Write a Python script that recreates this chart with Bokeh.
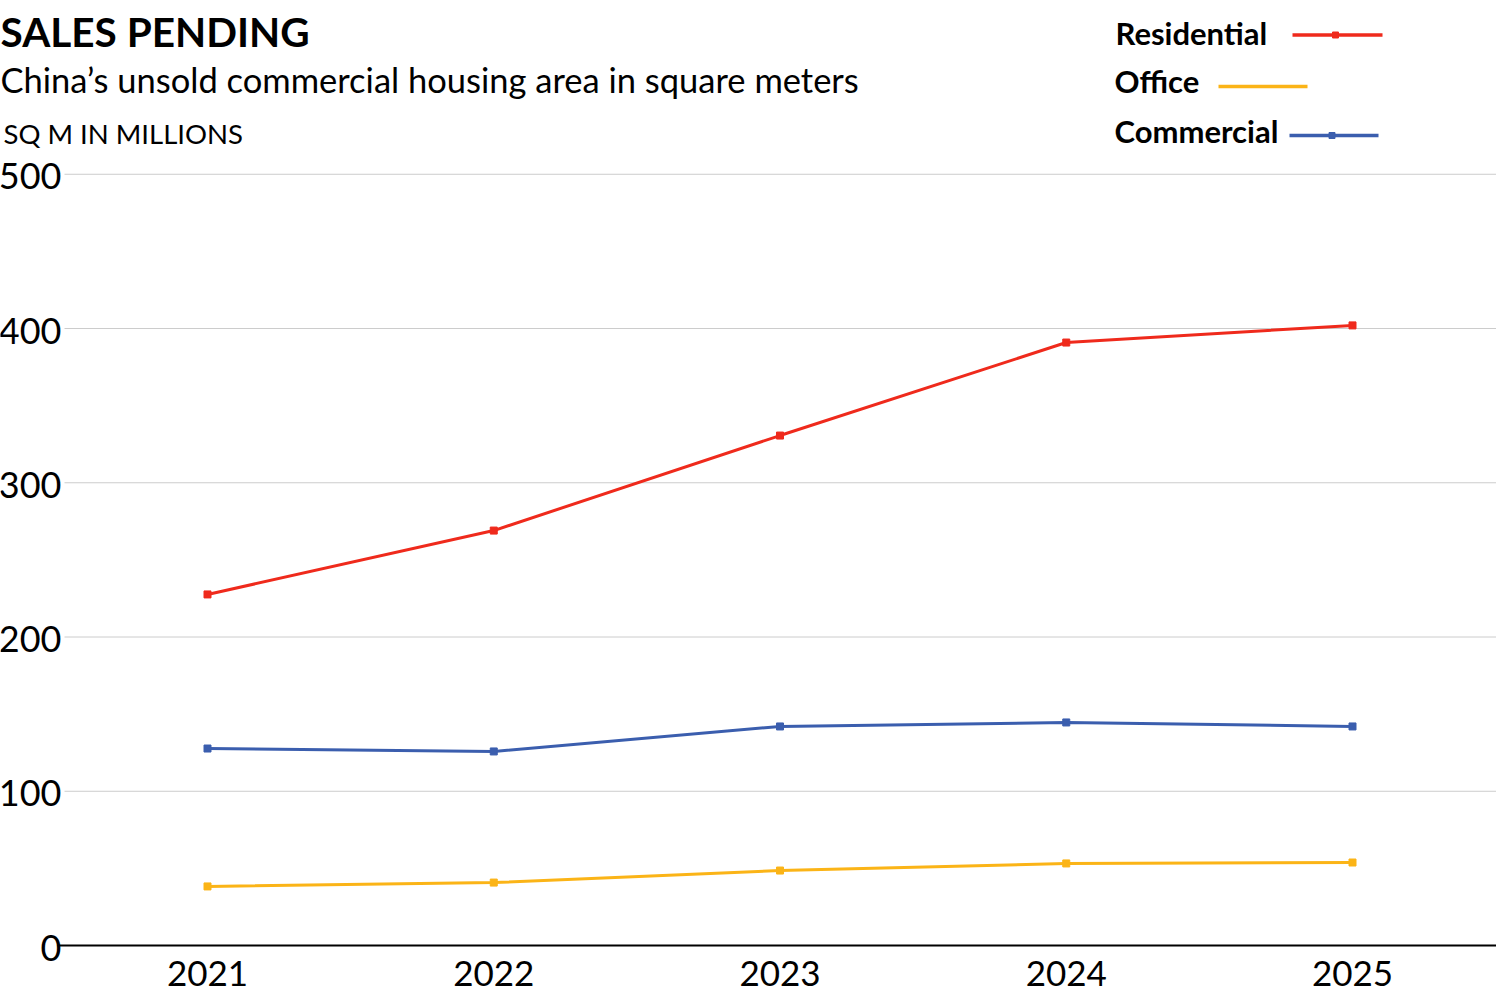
from bokeh.plotting import figure
from bokeh.models import Range1d
from bokeh.core.properties import value
from bokeh.embed import file_html
from bokeh.resources import INLINE

# ---- data ----
years = [2021, 2022, 2023, 2024, 2025]
year_labels = ["2021", "2022", "2023", "2024", "2025"]
residential = [227.6, 269.0, 330.6, 390.9, 402.0]
office = [38.3, 40.8, 48.6, 53.2, 53.8]
commercial = [127.7, 125.8, 142.0, 144.6, 142.0]
y_ticks = [0, 100, 200, 300, 400, 500]
y_tick_labels = ["0", "100", "200", "300", "400", "500"]
series_names = ["Residential", "Office", "Commercial"]
title_text = "SALES PENDING"
subtitle_text = "China\u2019s unsold commercial housing area in square meters"
unit_text = "SQ M IN MILLIONS"

RED = "#ef2a1c"
YEL = "#fbb417"
BLU = "#3b5eae"
FONT = value("Lato")

W, H = 1496, 997
XS = 286.25  # px per year
YS = 1.5425  # px per unit


def xd(px):  # picture px -> data x
    return 2021 + (px - 207) / XS


def yd(py):  # picture px -> data y
    return (945 - py) / YS


p = figure(width=W, height=H, output_backend="svg", toolbar_location=None,
           x_range=Range1d(xd(0), xd(W)), y_range=Range1d(yd(H), yd(0)),
           min_border=0)
p.outline_line_color = None
p.background_fill_color = "white"
p.border_fill_color = "white"
p.axis.visible = False
p.grid.visible = False

# horizontal gridlines (from tick values)
grid_vals = y_ticks[1:]
p.segment(x0=[xd(64)] * len(grid_vals), x1=[xd(W)] * len(grid_vals),
          y0=grid_vals, y1=grid_vals, line_color="#cccccc", line_width=1)
# zero baseline
p.segment(x0=[xd(57)], x1=[xd(W)], y0=[0], y1=[0], line_color="black",
          line_width=2)

# y tick labels
p.text(x=[xd(61)] * len(y_ticks), y=y_ticks, text=y_tick_labels,
       text_font=FONT, text_font_size="36px", text_color="black",
       text_align="right", text_baseline="alphabetic", y_offset=2)
# x tick labels
p.text(x=years, y=[0] * len(years), text=year_labels, text_font=FONT,
       text_font_size="35px", text_color="black", text_align="center",
       text_baseline="alphabetic", y_offset=28)

for vals, col in [(residential, RED), (commercial, BLU), (office, YEL)]:
    p.line(years, vals, line_color=col, line_width=3)
    p.scatter(years, vals, marker="square", size=7, fill_color=col,
              line_color=col)

# legend (manual: text followed by a line)
leg = [
    (series_names[0], RED, 1115, 32, 1292, 1382, 34.5, True),
    (series_names[1], YEL, 1114, 80, 1218, 1307, 86, False),
    (series_names[2], BLU, 1114, 130, 1289, 1378, 135, True),
]
for name, col, tx, ty, lx0, lx1, ly, mk in leg:
    p.text(x=[xd(tx)], y=[yd(ty)], text=[name], text_font=FONT,
           text_font_size="31px", text_font_style="bold", text_color="black",
           text_baseline="alphabetic")
    p.line([xd(lx0), xd(lx1)], [yd(ly), yd(ly)], line_color=col,
           line_width=3.5)
    if mk:
        p.scatter([xd((lx0 + lx1) / 2 - 2)], [yd(ly)], marker="square",
                  size=6, fill_color=col, line_color=col)

p.text(x=[xd(0)], y=[yd(31)], text=[title_text], text_font=FONT,
       text_font_size="40.5px", text_font_style="bold", text_color="black",
       text_baseline="alphabetic")
p.text(x=[xd(0)], y=[yd(79)], text=[subtitle_text], text_font=FONT,
       text_font_size="34.5px", text_color="black", text_baseline="alphabetic")
p.text(x=[xd(3)], y=[yd(133)], text=[unit_text], text_font=FONT,
       text_font_size="27.5px", text_color="black",
       text_baseline="alphabetic")

open("out.html", "w").write(file_html(p, INLINE))
